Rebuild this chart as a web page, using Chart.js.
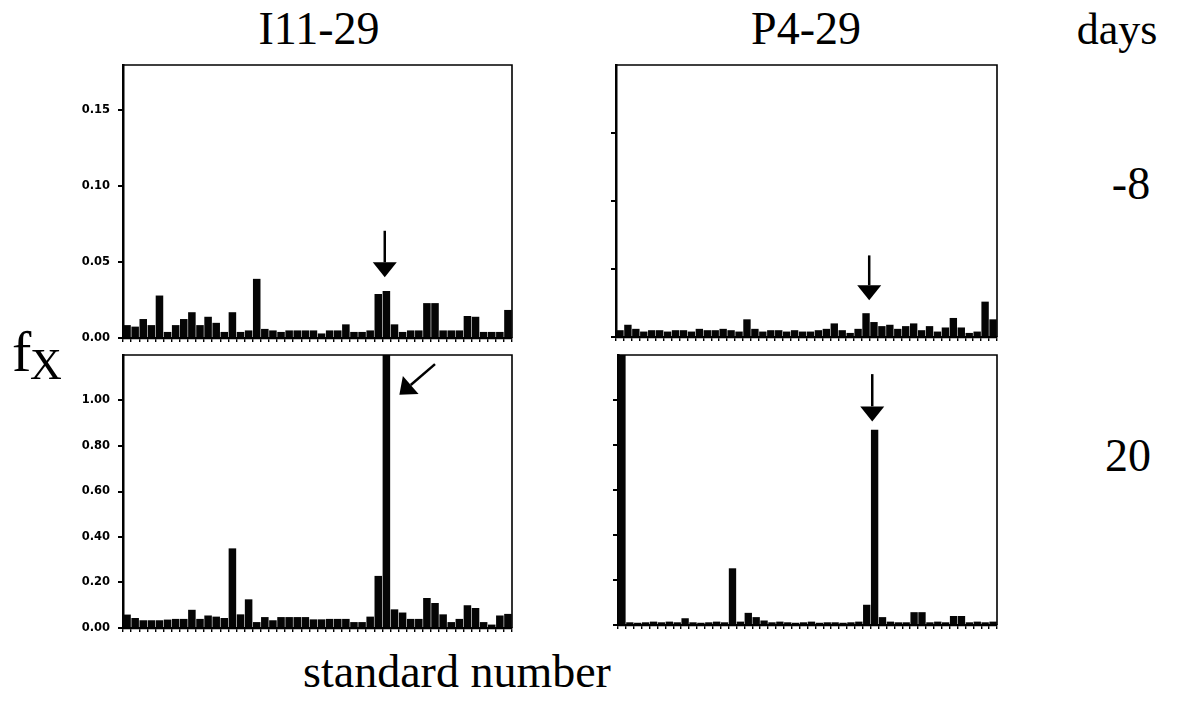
<!DOCTYPE html>
<html>
<head>
<meta charset="utf-8">
<script src="https://cdn.jsdelivr.net/npm/chart.js@4.4.1/dist/chart.umd.min.js"></script>
<style>
  html, body { margin:0; padding:0; background:#fff; }
  body { width:1193px; height:702px; position:relative; overflow:hidden; }
  canvas { position:absolute; }
  .t { position:absolute; font-family:"Liberation Serif","Times New Roman",serif; color:#000; line-height:1; white-space:nowrap; }
</style>
</head>
<body>
<canvas id="tl"></canvas>
<canvas id="tr"></canvas>
<canvas id="bl"></canvas>
<canvas id="br"></canvas>

<script>
// ---------- data ----------
const standards = Array.from({length: 48}, (_, i) => String(i + 1));

const sampleNames = ["I11-29", "P4-29"];
const dayLabels = ["-8", "20"];

const i11Day_8 = [0.0085,0.0075,0.0125,0.0085,0.028,0.004,0.0085,0.0125,0.017,0.0085,
  0.014,0.010,0.004,0.017,0.004,0.005,0.039,0.006,0.005,0.004,
  0.005,0.005,0.005,0.005,0.003,0.005,0.005,0.009,0.004,0.004,
  0.005,0.029,0.031,0.009,0.004,0.005,0.005,0.023,0.023,0.005,
  0.005,0.005,0.0145,0.014,0.004,0.004,0.004,0.0185];

const p4Day_8 = [0.005,0.009,0.006,0.004,0.005,0.005,0.004,0.005,0.005,0.004,
  0.006,0.005,0.005,0.006,0.005,0.004,0.013,0.006,0.004,0.005,
  0.005,0.004,0.005,0.004,0.004,0.005,0.006,0.010,0.005,0.003,
  0.006,0.0175,0.011,0.008,0.009,0.006,0.008,0.010,0.005,0.008,
  0.004,0.007,0.014,0.007,0.003,0.004,0.026,0.013];

const i11Day20 = [0.059,0.044,0.034,0.034,0.034,0.037,0.040,0.040,0.080,0.040,
  0.055,0.050,0.044,0.350,0.060,0.126,0.026,0.048,0.034,0.048,
  0.048,0.048,0.048,0.038,0.038,0.040,0.040,0.040,0.026,0.026,
  0.050,0.229,1.500,0.082,0.068,0.040,0.040,0.132,0.110,0.060,
  0.026,0.040,0.100,0.088,0.026,0.015,0.055,0.062];

const p4Day20 = [1.300,0.012,0.010,0.012,0.015,0.012,0.015,0.012,0.030,0.012,
  0.010,0.012,0.015,0.012,0.252,0.015,0.054,0.035,0.020,0.012,
  0.015,0.012,0.010,0.012,0.015,0.010,0.012,0.012,0.010,0.012,
  0.015,0.090,0.868,0.035,0.015,0.012,0.012,0.057,0.057,0.012,
  0.015,0.012,0.040,0.040,0.012,0.015,0.012,0.015];

// y-axis ticks
const tickTop = [0, 0.05, 0.10, 0.15];
const tickBottom = [0, 0.20, 0.40, 0.60, 0.80, 1.00];

// ---------- helpers ----------
const PAD = {l: 70, t: 10, r: 10, b: 14};

const framePlugin = {
  id: 'frame',
  afterDatasetsDraw(chart) {
    const {ctx, chartArea: a} = chart;
    ctx.save();
    ctx.strokeStyle = '#000';
    ctx.lineWidth = 1.6;
    ctx.beginPath();
    ctx.moveTo(a.left, a.top); ctx.lineTo(a.right, a.top); ctx.lineTo(a.right, a.bottom);
    ctx.stroke();
    ctx.restore();
  }
};

const arrowPlugin = {
  id: 'arrows',
  afterDatasetsDraw(chart, args, opts) {
    const list = opts.list || [];
    const {ctx} = chart;
    const xs = chart.scales.x, ys = chart.scales.y;
    const px = v => {
      const i = Math.floor(v), f = v - i;
      const p0 = xs.getPixelForValue(i);
      const p1 = xs.getPixelForValue(i + 1);
      return p0 + (p1 - p0) * f;
    };
    list.forEach(ar => {
      const x1 = px(ar.x1), y1 = ys.getPixelForValue(ar.y1);
      const x2 = px(ar.x2), y2 = ys.getPixelForValue(ar.y2);
      const ang = Math.atan2(y2 - y1, x2 - x1);
      const hl = 15, hw = 12;
      const bx = x2 - hl * Math.cos(ang), by = y2 - hl * Math.sin(ang);
      ctx.save();
      ctx.strokeStyle = '#000';
      ctx.fillStyle = '#000';
      ctx.lineWidth = 2.5;
      ctx.beginPath(); ctx.moveTo(x1, y1); ctx.lineTo(bx, by); ctx.stroke();
      ctx.beginPath();
      ctx.moveTo(x2, y2);
      ctx.lineTo(bx + hw * Math.sin(ang), by - hw * Math.cos(ang));
      ctx.lineTo(bx - hw * Math.sin(ang), by + hw * Math.cos(ang));
      ctx.closePath(); ctx.fill();
      ctx.restore();
    });
  }
};

function makePanel(id, area, values, ymax, ticks, showLabels, arrows) {
  const cv = document.getElementById(id);
  const w = area.right - area.left + PAD.l + PAD.r;
  const h = area.bottom - area.top + PAD.t + PAD.b;
  cv.width = w; cv.height = h;
  cv.style.left = (area.left - PAD.l) + 'px';
  cv.style.top = (area.top - PAD.t) + 'px';
  cv.style.width = w + 'px'; cv.style.height = h + 'px';
  new Chart(cv, {
    type: 'bar',
    data: {
      labels: standards,
      datasets: [{
        data: values,
        backgroundColor: '#050505',
        borderWidth: 0,
        barPercentage: 0.93,
        categoryPercentage: 1.0
      }]
    },
    options: {
      responsive: false,
      animation: false,
      events: [],
      layout: {autoPadding: false, padding: {left: 0, top: PAD.t, right: PAD.r, bottom: 0}},
      plugins: {legend: {display: false}, tooltip: {enabled: false}, arrows: {list: arrows}},
      scales: {
        x: {
          type: 'category',
          offset: true,
          ticks: {display: false},
          grid: {display: true, drawOnChartArea: false, drawTicks: true, tickLength: 4, color: '#000', lineWidth: 1.4, offset: true},
          border: {display: true, color: '#000', width: 2.2},
          afterFit(s) { s.height = PAD.b; s.paddingLeft = 0; s.paddingRight = 0; }
        },
        y: {
          min: 0, max: ymax,
          afterBuildTicks(s) { s.ticks = ticks.map(v => ({value: v})); },
          afterFit(s) { s.width = PAD.l; s.paddingTop = 0; s.paddingBottom = 0; },
          ticks: {
            display: showLabels,
            padding: 8,
            color: '#000',
            font: {family: '"DejaVu Sans", Arial, sans-serif', size: 11.5, weight: 'bold'},
            callback: v => Number(v).toFixed(2)
          },
          grid: {display: true, drawOnChartArea: false, drawTicks: true, tickLength: 5, color: '#000', lineWidth: 2},
          border: {display: true, color: '#000', width: 2.5}
        }
      }
    },
    plugins: [framePlugin, arrowPlugin]
  });
}

makePanel('tl', {left: 123, top: 65, right: 512, bottom: 338}, i11Day_8, 0.18, tickTop, true,
  [{x1: 31.8, y1: 0.0707, x2: 31.8, y2: 0.040}]);
makePanel('tr', {left: 616, top: 65, right: 997, bottom: 337}, p4Day_8, 0.20, tickTop, false,
  [{x1: 31.4, y1: 0.060, x2: 31.4, y2: 0.027}]);
makePanel('bl', {left: 123, top: 355, right: 512, bottom: 628}, i11Day20, 1.20, tickBottom, true,
  [{x1: 38.0, y1: 1.160, x2: 33.6, y2: 1.025}]);
makePanel('br', {left: 618, top: 355, right: 997, bottom: 625}, p4Day20, 1.20, tickBottom, false,
  [{x1: 31.7, y1: 1.115, x2: 31.7, y2: 0.905}]);

// ---------- text ----------
function addText(txt, cx, baseline, size, align) {
  const d = document.createElement('div');
  d.className = 't';
  d.textContent = txt;
  d.style.fontSize = size + 'px';
  d.style.top = (baseline - 0.8375 * size) + 'px';
  if (align === 'left') { d.style.left = cx + 'px'; }
  else { d.style.left = cx + 'px'; d.style.transform = 'translateX(-50%)'; }
  document.body.appendChild(d);
  return d;
}
addText(sampleNames[0], 319, 45, 46);
addText(sampleNames[1], 806, 45, 46);
addText('days', 1117, 45, 44);
addText(dayLabels[0], 1131, 200, 46);
addText(dayLabels[1], 1128, 472, 46);
addText('standard number', 457, 688, 46);
addText('f', 12, 372, 58, 'left');
addText('X', 30, 380, 44, 'left');
</script>
</body>
</html>
